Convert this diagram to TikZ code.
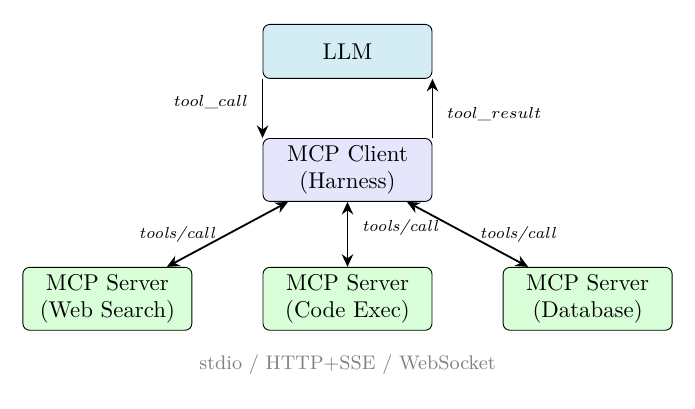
\documentclass[tikz,border=0pt]{standalone}
\usepackage{amsmath}
\usepackage{tikz}
\usetikzlibrary{arrows.meta,positioning,calc}
\usepackage{xcolor}
\definecolor{llmfill}{RGB}{212,236,243}
\definecolor{clifill}{RGB}{229,229,252}
\definecolor{srvfill}{RGB}{217,255,217}
\tikzset{
  blk/.style  ={rectangle,draw,rounded corners=3pt,
                 minimum width=2.6cm,minimum height=0.83cm,
                 align=center,inner sep=3pt},
  srv/.style  ={blk,fill=srvfill},
  sig/.style  ={-{Stealth[length=5.5pt,width=5pt]},thick},
  dsig/.style ={{Stealth[length=5.5pt,width=5pt]}-{Stealth[length=5.5pt,width=5pt]},thick},
  lbl/.style  ={font=\scriptsize,inner sep=2pt},
  note/.style ={font=\fontsize{8.6}{10}\selectfont,text=gray,inner sep=2pt},
}

\begin{document}
\begin{tikzpicture}
  % nodes
  \node[blk,fill=llmfill]                  (llm)    {LLM};
  \node[blk,fill=clifill, below=0.91cm of llm]
                                            (client) {MCP Client\\(Harness)};
  \node[srv,              below=1.0cm of client]
                                            (code)   {MCP Server\\(Code Exec)};
  \node[srv,              left=1.08cm of code]
                                            (web)    {MCP Server\\(Web Search)};
  \node[srv,              right=1.08cm of code]
                                            (db)     {MCP Server\\(Database)};
  \node[note,             below=0.3cm of code]
                                            (proto)  {stdio / HTTP+SSE / WebSocket};
  \useasboundingbox ($(llm.north)+(-5.346,0.369)$) rectangle ++(10.692,-6.277);
  % LLM <-> client
  \draw[sig] (llm.south west) -- node[lbl,pos=0.4,left=4pt]{$tool\_call$} (client.north west);
  \draw[sig] (client.north east) -- node[lbl,pos=0.4,right=4pt]{$tool\_result$} (llm.south east);
  % client <-> servers
  \draw[dsig] (client) -- node[lbl,midway,left=3pt]{\textit{tools/call}} (web);
  \draw[dsig] (client) -- node[lbl,pos=0.4,right=4pt]{\textit{tools/call}} (code);
  \draw[dsig] (client) -- node[lbl,midway,right=3pt]{\textit{tools/call}} (db);
\end{tikzpicture}
\end{document}
